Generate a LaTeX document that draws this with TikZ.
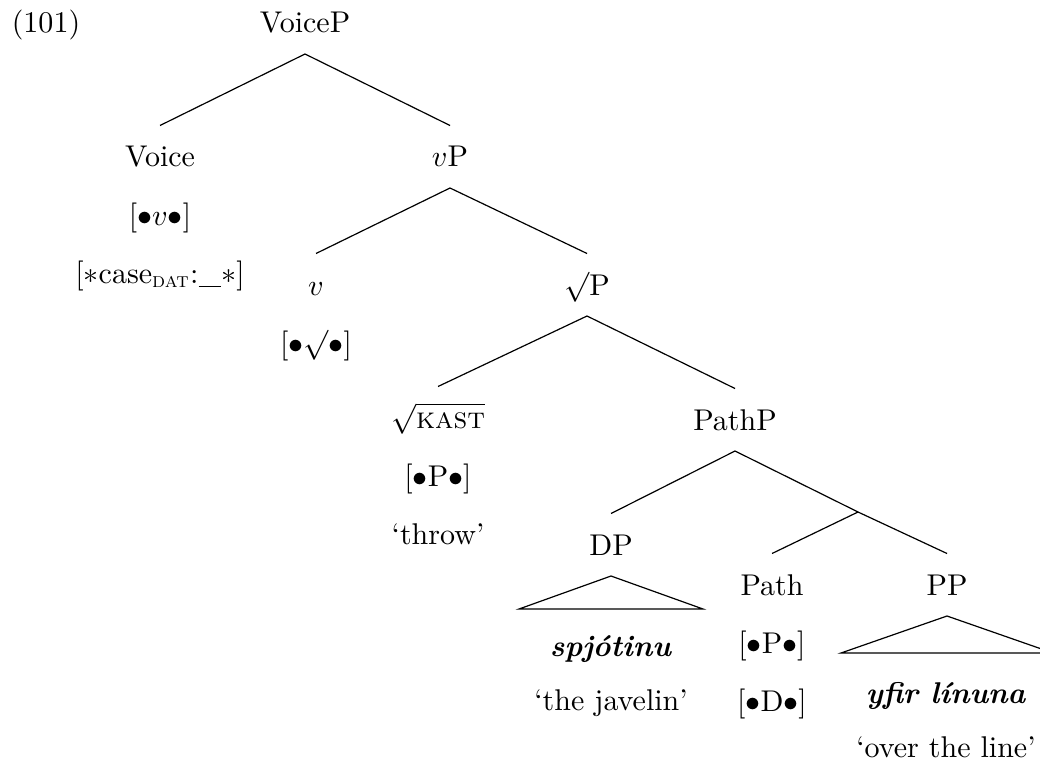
\documentclass[tikz,border=0pt]{standalone}
\tikzstyle{cat}=[anchor=base,inner sep=6.8pt,text height=6.83pt,text depth=0pt]
\tikzstyle{feat}=[anchor=base,inner sep=0pt]
\newcommand{\blt}{{\bullet}}

\begin{document}
\begin{tikzpicture}[x=0.3333pt,y=-0.3333pt]
	\useasboundingbox (0,0) rectangle (1040,761);
	\node[feat] (exnum) at (46,33) {(101)};

	% categories
	\node[cat] (VoiceP) at (305,33) {VoiceP};
	\node[cat] (Voice) at (160,167) {Voice};
	\node[cat] (vP) at (450,167) {$v$P};
	\node[cat] (v) at (316,295) {$v$};
	\node[cat] (rootP) at (587,295) {$\surd$P};
	\node[cat] (root) at (438,428) {$\sqrt{\textsc{kast}}$};
	\node[cat] (PathP) at (735,430) {PathP};
	\node[cat] (DP) at (611,555) {DP};
	\coordinate (Pathbar) at (858,512);
	\node[cat] (Path) at (772,595) {Path};
	\node[cat] (PP) at (947,595) {PP};

	% features and glosses
	\node[feat] (Voicef1) at (160,225) {$[\blt v\blt]$};
	\node[feat] (Voicef2) at (160,283) {[$\ast$case\textsubscript{\textsc{dat}}:\rule[-1.3pt]{7.6pt}{0.4pt}$\ast$]};
	\node[feat] (vf1) at (316,353) {$[\blt\surd\blt]$};
	\node[feat] (rootf1) at (438,486) {$[\blt\mathrm{P}\blt]$};
	\node[feat] (rootgl) at (438,544) {‘throw’};
	\node[feat] (Pathf1) at (772,653) {$[\blt\mathrm{P}\blt]$};
	\node[feat] (Pathf2) at (772,711) {$[\blt\mathrm{D}\blt]$};
	\node[feat] (DPword) at (611,656) {\textbf{\textit{spjótinu}}};
	\node[feat] (DPgl) at (611,710) {‘the javelin’};
	\node[feat] (PPword) at (946,703) {\textbf{\textit{yfir línuna}}};
	\node[feat] (PPgl) at (946,757) {‘over the line’};

	\draw[-] (VoiceP.south) -- (Voice.north);
	\draw[-] (VoiceP.south) -- (vP.north);
	\draw[-] (vP.south) -- (v.north);
	\draw[-] (vP.south) -- (rootP.north);
	\draw[-] (rootP.south) -- (root.north);
	\draw[-] (rootP.south) -- (PathP.north);
	\draw[-] (PathP.south) -- (DP.north);
	\draw[-] (PathP.south) -- (Pathbar);
	\draw[-] (Pathbar) -- (Path.north);
	\draw[-] (Pathbar) -- (PP.north);

	% triangles
	\coordinate (DPleft) at (519,609);
	\coordinate (DPright) at (703,609);
	\coordinate (PPleft) at (841,653);
	\coordinate (PPright) at (1053,653);
	\draw[-] (DP.south) -- (DPleft) -- (DPright) -- cycle;
	\draw[-] (PP.south) -- (PPleft) -- (PPright) -- cycle;
\end{tikzpicture}
\end{document}
